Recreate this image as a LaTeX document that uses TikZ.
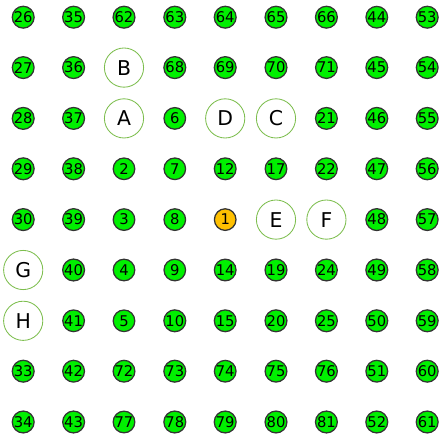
\documentclass[tikz,border=0pt]{standalone}
\usepackage{fontspec}
\setmainfont{DejaVu Sans}
\definecolor{cellgreen}{HTML}{00F000}
\definecolor{cellorange}{HTML}{FFC000}
\definecolor{ringgreen}{HTML}{7DBE4E}
\tikzset{
  num/.style={draw=black!80, line width=0.9pt, circle, fill=cellgreen, inner sep=0pt, minimum size=0.54cm, font=\fontsize{10.5}{11}\selectfont},
  start/.style={num, fill=cellorange},
  letter/.style={draw=ringgreen, line width=0.6pt, circle, fill=white, inner sep=0pt, minimum size=0.98cm, font=\fontsize{14.5}{15}\selectfont}
}
\begin{document}
\begin{tikzpicture}
\useasboundingbox (0,0) rectangle (11,-10.95);
% row 1
\node[num] (n26) at (0.58,-0.43) {26};
\node[num] (n35) at (1.84,-0.43) {35};
\node[num] (n62) at (3.10,-0.43) {62};
\node[num] (n63) at (4.37,-0.43) {63};
\node[num] (n64) at (5.63,-0.43) {64};
\node[num] (n65) at (6.90,-0.43) {65};
\node[num] (n66) at (8.16,-0.43) {66};
\node[num] (n44) at (9.42,-0.43) {44};
\node[num] (n53) at (10.68,-0.43) {53};
% row 2
\node[num] (n27) at (0.58,-1.69) {27};
\node[num] (n36) at (1.84,-1.69) {36};
\node[letter] (B) at (3.10,-1.69) {B};
\node[num] (n68) at (4.37,-1.69) {68};
\node[num] (n69) at (5.63,-1.69) {69};
\node[num] (n70) at (6.90,-1.69) {70};
\node[num] (n71) at (8.16,-1.69) {71};
\node[num] (n45) at (9.42,-1.69) {45};
\node[num] (n54) at (10.68,-1.69) {54};
% row 3
\node[num] (n28) at (0.58,-2.96) {28};
\node[num] (n37) at (1.84,-2.96) {37};
\node[letter] (A) at (3.10,-2.96) {A};
\node[num] (n6) at (4.37,-2.96) {6};
\node[letter] (D) at (5.63,-2.96) {D};
\node[letter] (C) at (6.90,-2.96) {C};
\node[num] (n21) at (8.16,-2.96) {21};
\node[num] (n46) at (9.42,-2.96) {46};
\node[num] (n55) at (10.68,-2.96) {55};
% row 4
\node[num] (n29) at (0.58,-4.22) {29};
\node[num] (n38) at (1.84,-4.22) {38};
\node[num] (n2) at (3.10,-4.22) {2};
\node[num] (n7) at (4.37,-4.22) {7};
\node[num] (n12) at (5.63,-4.22) {12};
\node[num] (n17) at (6.90,-4.22) {17};
\node[num] (n22) at (8.16,-4.22) {22};
\node[num] (n47) at (9.42,-4.22) {47};
\node[num] (n56) at (10.68,-4.22) {56};
% row 5
\node[num] (n30) at (0.58,-5.49) {30};
\node[num] (n39) at (1.84,-5.49) {39};
\node[num] (n3) at (3.10,-5.49) {3};
\node[num] (n8) at (4.37,-5.49) {8};
\node[start] (n1) at (5.63,-5.49) {1};
\node[letter] (E) at (6.90,-5.49) {E};
\node[letter] (F) at (8.16,-5.49) {F};
\node[num] (n48) at (9.42,-5.49) {48};
\node[num] (n57) at (10.68,-5.49) {57};
% row 6
\node[letter] (G) at (0.58,-6.75) {G};
\node[num] (n40) at (1.84,-6.75) {40};
\node[num] (n4) at (3.10,-6.75) {4};
\node[num] (n9) at (4.37,-6.75) {9};
\node[num] (n14) at (5.63,-6.75) {14};
\node[num] (n19) at (6.90,-6.75) {19};
\node[num] (n24) at (8.16,-6.75) {24};
\node[num] (n49) at (9.42,-6.75) {49};
\node[num] (n58) at (10.68,-6.75) {58};
% row 7
\node[letter] (H) at (0.58,-8.02) {H};
\node[num] (n41) at (1.84,-8.02) {41};
\node[num] (n5) at (3.10,-8.02) {5};
\node[num] (n10) at (4.37,-8.02) {10};
\node[num] (n15) at (5.63,-8.02) {15};
\node[num] (n20) at (6.90,-8.02) {20};
\node[num] (n25) at (8.16,-8.02) {25};
\node[num] (n50) at (9.42,-8.02) {50};
\node[num] (n59) at (10.68,-8.02) {59};
% row 8
\node[num] (n33) at (0.58,-9.28) {33};
\node[num] (n42) at (1.84,-9.28) {42};
\node[num] (n72) at (3.10,-9.28) {72};
\node[num] (n73) at (4.37,-9.28) {73};
\node[num] (n74) at (5.63,-9.28) {74};
\node[num] (n75) at (6.90,-9.28) {75};
\node[num] (n76) at (8.16,-9.28) {76};
\node[num] (n51) at (9.42,-9.28) {51};
\node[num] (n60) at (10.68,-9.28) {60};
% row 9
\node[num] (n34) at (0.58,-10.55) {34};
\node[num] (n43) at (1.84,-10.55) {43};
\node[num] (n77) at (3.10,-10.55) {77};
\node[num] (n78) at (4.37,-10.55) {78};
\node[num] (n79) at (5.63,-10.55) {79};
\node[num] (n80) at (6.90,-10.55) {80};
\node[num] (n81) at (8.16,-10.55) {81};
\node[num] (n52) at (9.42,-10.55) {52};
\node[num] (n61) at (10.68,-10.55) {61};
\end{tikzpicture}
\end{document}
